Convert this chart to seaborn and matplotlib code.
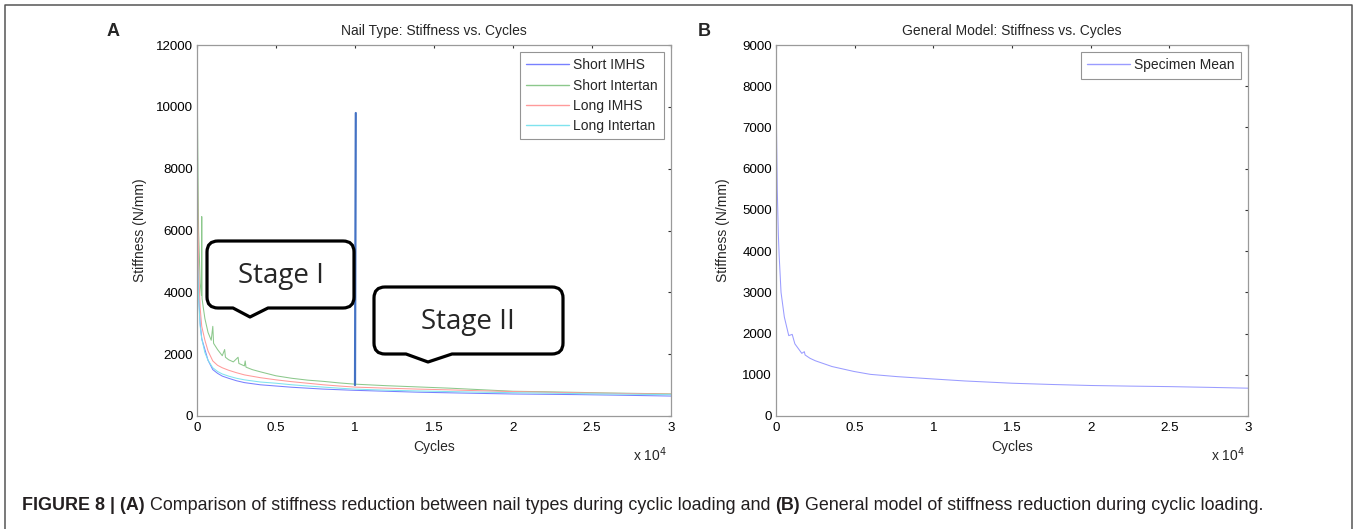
import numpy as np
import pandas as pd
import seaborn as sns
import matplotlib.pyplot as plt
from matplotlib.path import Path
from matplotlib.patches import PathPatch
from matplotlib.ticker import FixedLocator, FuncFormatter

# ---- data (cycles, stiffness N/mm) ----
grid_cycles = [0, 50, 100, 200, 300, 500, 700, 1000, 1300, 1600, 2000, 2500, 3000,
               4000, 5000, 6000, 7000, 8000, 9000, 10000, 12000, 14000, 16000,
               18000, 20000, 22000, 24000, 26000, 28000, 30000]
short_imhs = [7000, 5200, 4000, 3000, 2500, 2150, 1800, 1500, 1380, 1290, 1220, 1140, 1080,
              1010, 970, 930, 900, 870, 850, 830, 800, 770, 750,
              730, 712, 702, 692, 678, 662, 645]
long_imhs = [9900, 6500, 4800, 3500, 2900, 2450, 2100, 1780, 1640, 1560, 1480, 1400, 1330,
             1240, 1170, 1110, 1060, 1010, 970, 935, 900, 870, 845,
             815, 790, 770, 750, 735, 720, 705]
long_intertan = [6200, 4800, 3800, 2900, 2500, 2050, 1800, 1560, 1440, 1360, 1290, 1220, 1170,
                 1100, 1060, 1010, 970, 935, 900, 870, 835, 810, 790,
                 770, 755, 740, 725, 712, 700, 690]

# short intertan has its own sampling because of the visible spikes
si_cycles = [0, 50, 100, 200, 280, 300, 320, 400, 500, 700, 900, 1000, 1050, 1300, 1600,
             1750, 1800, 2000, 2300, 2600, 2650, 3000, 3050, 3100, 3500, 4000, 5000,
             6000, 7000, 8000, 9000, 10000, 12000, 14000, 16000, 18000, 20000, 22000,
             24000, 26000, 28000, 30000]
short_intertan = [11800, 8500, 6000, 4300, 3900, 6450, 3800, 3500, 3150, 2700, 2450, 2900, 2350,
                  2150, 1950, 2150, 1900, 1820, 1750, 1900, 1700, 1620, 1780, 1580, 1500,
                  1430, 1300, 1220, 1160, 1120, 1070, 1030, 980, 940, 900, 850, 800, 785,
                  765, 745, 730, 715]

# blue divider drawn at 1e4 cycles
divider_cycles = [10000, 10050]
divider_stiff = [1000, 9800]

# panel B specimen mean
mean_cycles = [0, 30, 80, 150, 200, 320, 530, 810, 1030, 1200, 1640, 1800, 1850, 2160, 2500,
               3560, 4960, 6000, 7700, 9920, 12000, 15000, 17500, 20000, 22500, 25000,
               27500, 30000]
mean_stiff = [9000, 7000, 5500, 4400, 3900, 3000, 2400, 1950, 1980, 1750, 1520, 1560, 1480,
              1400, 1340, 1200, 1080, 1010, 955, 900, 850, 795, 765, 740, 725, 713, 695, 675]

labels_a = ["Short IMHS", "Short Intertan", "Long IMHS", "Long Intertan"]
colors_a = ["#7880ff", "#8cc88c", "#ff9a9a", "#7fe3ee"]

df_a = pd.concat([
    pd.DataFrame({"cycles": grid_cycles, "stiffness": short_imhs, "type": labels_a[0]}),
    pd.DataFrame({"cycles": si_cycles, "stiffness": short_intertan, "type": labels_a[1]}),
    pd.DataFrame({"cycles": grid_cycles, "stiffness": long_imhs, "type": labels_a[2]}),
    pd.DataFrame({"cycles": grid_cycles, "stiffness": long_intertan, "type": labels_a[3]}),
])
df_b = pd.DataFrame({"cycles": mean_cycles, "stiffness": mean_stiff, "type": "Specimen Mean"})

sns.set_theme(style="white")
plt.rcParams["font.family"] = ["Liberation Sans", "DejaVu Sans"]

W, H = 1359, 529
fig = plt.figure(figsize=(W / 100, H / 100), dpi=100)


def px_axes(x0, x1, y0, y1):
    return fig.add_axes([x0 / W, 1 - y1 / H, (x1 - x0) / W, (y1 - y0) / H])


ax_a = px_axes(197, 671, 45, 416)
ax_b = px_axes(776, 1248, 45, 416)

sns.lineplot(data=df_a, x="cycles", y="stiffness", hue="type", hue_order=labels_a,
             palette=colors_a, estimator=None, sort=False, lw=0.75, ax=ax_a)
ax_a.plot(divider_cycles, divider_stiff, color="#4472c4", lw=1.6, zorder=5)
sns.lineplot(data=df_b, x="cycles", y="stiffness", hue="type", palette=["#9a9cff"],
             estimator=None, sort=False, lw=0.75, ax=ax_b)


def style_axes(ax, ymax, ystep, title, ylab_x):
    ax.set_xlim(0, 30000)
    ax.set_ylim(0, ymax)
    ax.xaxis.set_major_locator(FixedLocator(np.arange(0, 30001, 5000)))
    ax.xaxis.set_major_formatter(FuncFormatter(lambda v, p: f"{v / 1e4:g}"))
    ax.yaxis.set_major_locator(FixedLocator(np.arange(0, ymax + 1, ystep)))
    ax.tick_params(direction="in", length=2.5, width=0.8, color="#333333",
                   top=True, right=True, labelsize=9.6, pad=3, labelcolor="black")
    ax.tick_params(axis="x", pad=4)
    for s in ax.spines.values():
        s.set_color("#9a9a9a")
        s.set_linewidth(0.9)
    ax.set_title(title, fontsize=10, pad=7)
    ax.set_xlabel("Cycles", fontsize=10)
    ax.set_ylabel("Stiffness (N/mm)", fontsize=10)
    ax.xaxis.set_label_coords(0.5, -0.065)
    ax.yaxis.set_label_coords(ylab_x, 0.5)
    leg = ax.legend(loc="upper right", bbox_to_anchor=(1 - 7 / 474, 1 - 7 / 371),
                    borderaxespad=0, frameon=True, fancybox=False, fontsize=10,
                    handlelength=3.1, labelspacing=0.45, borderpad=0.45,
                    handletextpad=0.3)
    leg.get_frame().set_edgecolor("#7a7a7a")
    leg.get_frame().set_linewidth(0.8)
    for ln in leg.get_lines():
        ln.set_linewidth(1.0)


style_axes(ax_a, 12000, 2000, "Nail Type: Stiffness vs. Cycles", -0.105)
style_axes(ax_b, 9000, 1000, "General Model: Stiffness vs. Cycles", -0.097)

# ---- overlay in pixel coordinates ----
ov = fig.add_axes([0, 0, 1, 1], zorder=10)
ov.set_xlim(0, W)
ov.set_ylim(H, 0)
ov.axis("off")
ov.patch.set_alpha(0)

# frame around the figure
ov.plot([5, 5, 1352, 1352], [H + 5, 5, 5, H + 5], color="#555555", lw=1.1,
        clip_on=False)

ov.text(113, 32, "A", fontsize=13, fontweight="bold", ha="center", va="center")
ov.text(704, 32, "B", fontsize=13, fontweight="bold", ha="center", va="center")
ov.text(650, 455, r"x 10$^4$", fontsize=10, ha="center", va="center")
ov.text(1228, 455, r"x 10$^4$", fontsize=10, ha="center", va="center")


def callout(x0, y0, x1, y1, bx0, bx1, tx, ty, r=11):
    verts = [(x0 + r, y0), (x1 - r, y0), (x1, y0), (x1, y0 + r), (x1, y1 - r),
             (x1, y1), (x1 - r, y1), (bx1, y1), (tx, ty), (bx0, y1), (x0 + r, y1),
             (x0, y1), (x0, y1 - r), (x0, y0 + r), (x0, y0), (x0 + r, y0), (x0 + r, y0)]
    codes = [Path.MOVETO, Path.LINETO, Path.CURVE3, Path.CURVE3, Path.LINETO,
             Path.CURVE3, Path.CURVE3, Path.LINETO, Path.LINETO, Path.LINETO,
             Path.LINETO, Path.CURVE3, Path.CURVE3, Path.LINETO, Path.CURVE3,
             Path.CURVE3, Path.CLOSEPOLY]
    ov.add_patch(PathPatch(Path(verts, codes), facecolor="white", edgecolor="black",
                           lw=2.3, joinstyle="round"))


callout(207, 241, 354, 308, 233, 268, 250, 317)
ov.text(281, 276, "Stage I", fontsize=20, family=["Open Sans", "DejaVu Sans"],
        ha="center", va="center")
callout(374, 287, 563, 354, 406, 452, 428, 362)
ov.text(468, 322, "Stage II", fontsize=20, family=["Open Sans", "DejaVu Sans"],
        ha="center", va="center")

# caption, pieces placed one after another
caption = [("FIGURE 8 | (A)", True),
           (" Comparison of stiffness reduction between nail types during cyclic loading and ", False),
           ("(B)", True),
           (" General model of stiffness reduction during cyclic loading.", False)]
fig.canvas.draw()
rend = fig.canvas.get_renderer()
cx = 22
for txt, bold in caption:
    t = ov.text(cx, 505, txt, fontsize=12.9, fontweight="bold" if bold else "normal",
                ha="left", va="center", color="#231f20")
    cx += t.get_window_extent(renderer=rend).width

fig.savefig("out.png", dpi=100)
